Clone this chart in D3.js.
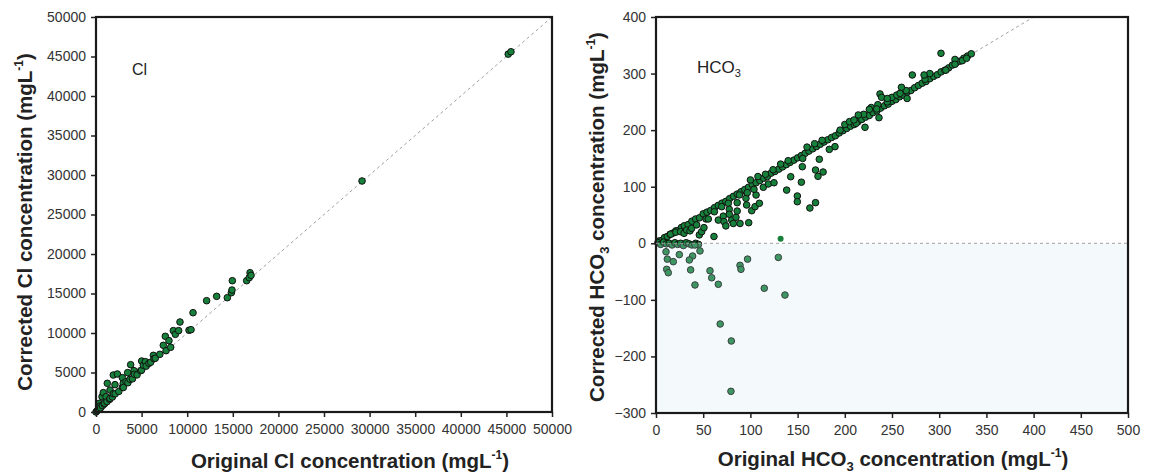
<!DOCTYPE html>
<html>
<head>
<meta charset="utf-8">
<script src="https://cdn.jsdelivr.net/npm/d3@7"></script>
<style>
  body { margin: 0; background: #fff; }
  text { font-family: "Liberation Sans", Arial, sans-serif; }
</style>
</head>
<body>
<div id="chart"></div>
<script>
// Cl panel: [original, corrected]
var clPoints = [
    [0, 0], [100, 120], [200, 250], [300, 350], [370, 1100], [440, 760], [500, 520], [660, 1940],
    [700, 800], [800, 2450], [900, 1000], [950, 1100], [1100, 1940], [1200, 1300], [1240, 3630],
    [1500, 1600], [1540, 2780], [1540, 1730], [1800, 1900], [1900, 2320], [1900, 4680], [2080, 3460],
    [2100, 2300], [2340, 4810], [2500, 2600], [2890, 4350], [2890, 3130], [2990, 3630], [3000, 3100],
    [3290, 3840], [3470, 4980], [3500, 3700], [3730, 4140], [3800, 5990], [4000, 4200], [4170, 5230],
    [4200, 4770], [4500, 4700], [4900, 5230], [5000, 5300], [5010, 6450], [5190, 5910], [5410, 6370],
    [5500, 5800], [5810, 6160], [6000, 6300], [6290, 7170], [6360, 6750], [6500, 6800], [7000, 7300],
    [7380, 8440], [7600, 9580], [7680, 7760], [8000, 9030], [8190, 8190], [8480, 10300], [8700, 9830],
    [9060, 10300], [9210, 11390], [10200, 10350], [10420, 10420], [10640, 12570], [12130, 14090],
    [13230, 14640], [14400, 14470], [14840, 15100], [14910, 15440], [14950, 16620], [16520, 16620],
    [16800, 17000], [16890, 17630], [17000, 17300],
    [29170, 29240], [45200, 45300], [45500, 45600]
];

// HCO3 panel: [original, corrected]
var hco3Points = [
    [3, 4], [6, 5], [9, 10], [12, 12], [15, 16], [18, 18], [21, 22], [24, 23], [27, 28], [30, 31],
    [34, 33], [38, 39], [42, 43], [46, 45], [50, 52], [54, 55], [58, 58], [62, 63], [66, 67], [70, 71],
    [74, 74], [78, 79], [82, 83], [86, 87], [90, 91], [94, 95], [98, 99], [102, 104], [106, 107],
    [110, 111], [114, 115], [118, 118], [122, 124], [126, 127], [130, 131], [134, 135], [138, 139],
    [142, 143], [146, 147], [150, 151], [154, 155], [158, 159], [162, 163], [166, 167], [170, 171],
    [174, 175], [178, 179], [182, 183], [186, 187], [190, 190], [194, 195], [198, 199], [202, 203],
    [206, 207], [210, 210], [214, 215], [218, 219], [222, 223], [226, 226], [230, 231], [234, 234],
    [238, 239], [242, 243], [246, 246], [250, 251], [254, 254], [258, 259], [262, 262], [266, 267],
    [270, 270], [274, 275], [278, 279], [282, 283], [286, 286], [290, 291], [294, 295], [298, 298],
    [302, 303], [306, 306], [310, 310], [314, 315], [318, 319], [322, 322], [326, 327], [330, 331],
    [334, 335],
    [100, 112], [108, 118], [116, 122], [124, 130], [132, 140], [140, 146], [160, 170], [168, 176],
    [176, 182], [195, 200], [200, 210], [205, 215], [212, 212], [220, 228], [228, 240], [235, 245],
    [245, 250], [250, 258], [255, 262], [265, 270], [285, 290], [290, 300],
    [15.5, 16], [21, 19.6], [26, 20.5], [29.7, 17.6], [32.5, 23.5], [36, 22], [37.8, 26.5], [43, 32.5],
    [45.9, 14.8], [48.4, 20.5], [50.8, 27.6], [53, 43], [55.4, 43], [61.8, 55.8], [61.4, 12], [66, 41],
    [69.6, 64.7], [71.3, 48], [72, 38.3], [74, 30.7], [76.6, 70.7], [77.6, 60], [77.6, 51.3],
    [80.2, 41], [81.9, 35], [84.7, 46], [86, 57], [86, 71.8], [88.3, 85.4], [89, 35], [95.3, 79.5],
    [96, 67.7], [96.7, 89.5], [98.2, 36.4], [101.4, 57.6], [104.9, 64.7], [106, 85.4], [103.8, 95.4],
    [109.5, 70.7], [113.7, 99], [119, 104.8], [125, 107], [138.4, 94], [149.7, 83.6], [149.7, 73.5],
    [163, 62.4], [169, 71.8], [142.7, 117.7], [154, 108], [169, 129.5], [177, 126], [171.6, 118.4],
    [173, 148.5], [155, 135.4], [155.4, 150], [189.6, 170.8], [183.6, 166], [221.4, 205],
    [214.3, 226.8], [209.7, 218], [226, 236.8], [233.8, 237.4], [236.2, 222], [237.3, 264], [239, 258],
    [245, 256], [260, 275.7], [266, 256], [258.5, 265], [271.5, 297.5], [284, 297.5], [301.9, 335.8],
    [307, 306], [316.7, 325], [316.7, 316.4], [324.5, 322.8], [329, 327],
    [2, 1], [5, -2], [8, 2], [11, -1], [14, 0], [17, -3], [20, 1], [23, -2], [26, 0], [29, -4],
    [32, 1], [35, -1], [38, -3], [42, 0], [45, -2], [41.3, -3],
    [10.6, -15], [12, -28], [18.3, -32.5], [11.3, -46], [13, -52], [24.7, -20], [46.6, -13.5],
    [38.8, -22.5], [35.3, -29.5], [36.7, -47], [41.3, -73.7], [57.2, -48.5], [59, -61], [66, -72.5],
    [89, -39], [90, -46], [97, -28], [114.7, -79.5], [129.6, -25], [136.6, -91.5],
    [68, -142.7], [79.8, -172.7], [79.4, -261.7]
];

// the lone point without an outline
var hco3Bare = [[132, 8]];

var clTicks = d3.range(0, 50001, 5000);
var hco3XTicks = d3.range(0, 501, 50);
var hco3YTicks = d3.range(-300, 401, 100);

var width = 1149;
var height = 475;

var svg = d3.select("#chart")
    .append("svg")
    .attr("width", width)
    .attr("height", height);

function panel(opts) {
    var x = d3.scaleLinear().domain(opts.xDomain).range([opts.left, opts.right]);
    var y = d3.scaleLinear().domain(opts.yDomain).range([opts.bottom, opts.top]);
    var g = svg.append("g");

    // 1:1 line
    g.append("line")
        .attr("x1", x(0)).attr("y1", y(0))
        .attr("x2", x(opts.diagTo)).attr("y2", y(opts.diagTo))
        .attr("stroke", "#a0a0a0")
        .attr("stroke-width", 1)
        .attr("stroke-dasharray", "3,3");

    g.selectAll("circle.pt")
        .data(opts.points)
        .enter()
        .append("circle")
        .attr("class", "pt")
        .attr("cx", function(d) { return x(d[0]); })
        .attr("cy", function(d) { return y(d[1]); })
        .attr("r", 3.3)
        .attr("fill", "#17803a")
        .attr("stroke", "#111")
        .attr("stroke-width", 1);

    var xAxis = g.append("g")
        .attr("transform", "translate(0," + opts.bottom + ")")
        .call(d3.axisBottom(x).tickValues(opts.xTicks).tickSize(5).tickPadding(7).tickFormat(d3.format("d")));
    var yAxis = g.append("g")
        .attr("transform", "translate(" + opts.left + ",0)")
        .call(d3.axisLeft(y).tickValues(opts.yTicks).tickSize(5).tickPadding(5).tickFormat(d3.format("d")));

    [xAxis, yAxis].forEach(function(a) {
        a.select(".domain").remove();
        a.selectAll("line").attr("stroke", "#222").attr("stroke-width", 1.5);
        a.selectAll("text")
            .attr("font-family", "Liberation Sans, Arial, sans-serif")
            .attr("font-size", "14px")
            .attr("fill", "#333");
    });

    // frame
    g.append("rect")
        .attr("x", opts.left).attr("y", opts.top)
        .attr("width", opts.right - opts.left)
        .attr("height", opts.bottom - opts.top)
        .attr("fill", "none")
        .attr("stroke", "#1a1a1a")
        .attr("stroke-width", 2.2);

    return { x: x, y: y, g: g };
}

function title(x, y, rotate, parts) {
    var t = svg.append("text")
        .attr("transform", "translate(" + x + "," + y + ")" + (rotate ? " rotate(-90)" : ""))
        .attr("text-anchor", "middle")
        .attr("font-size", "20.5px")
        .attr("font-weight", "bold")
        .attr("fill", "#222");
    parts.forEach(function(p) {
        var s = t.append("tspan").text(p.t);
        if (p.sup) s.attr("font-size", "12px").attr("dy", "-9");
        if (p.sub) s.attr("font-size", "13px").attr("dy", "5");
        if (p.back) s.attr("dy", p.back);
    });
}

// ---- left panel (Cl) ----
var left = panel({
    left: 96, right: 552, top: 17, bottom: 412,
    xDomain: [0, 50000], yDomain: [0, 50000], diagTo: 50000,
    xTicks: clTicks, yTicks: clTicks, points: clPoints
});

svg.append("text")
    .attr("x", 132).attr("y", 75)
    .attr("font-size", "16px")
    .attr("fill", "#222")
    .text("Cl");

title(350, 468, false, [{t: "Original Cl concentration (mgL"}, {t: "-1", sup: true}, {t: ")", back: "9"}]);
title(32, 222, true, [{t: "Corrected Cl concentration (mgL"}, {t: "-1", sup: true}, {t: ")", back: "9"}]);

// ---- right panel (HCO3) ----
var right = panel({
    left: 656, right: 1128, top: 17, bottom: 413,
    xDomain: [0, 500], yDomain: [-300, 400], diagTo: 400,
    xTicks: hco3XTicks, yTicks: hco3YTicks, points: hco3Points
});

right.g.selectAll("circle.bare")
    .data(hco3Bare)
    .enter()
    .append("circle")
    .attr("class", "bare")
    .attr("cx", function(d) { return right.x(d[0]); })
    .attr("cy", function(d) { return right.y(d[1]); })
    .attr("r", 3)
    .attr("fill", "#17803a");

// shaded negative region laid over the points
right.g.insert("rect", "g")
    .attr("x", right.x(0)).attr("y", right.y(0))
    .attr("width", right.x(500) - right.x(0))
    .attr("height", right.y(-300) - right.y(0))
    .attr("fill", "#cfe9f1")
    .attr("opacity", 0.22);

right.g.append("line")
    .attr("x1", right.x(0)).attr("y1", right.y(0))
    .attr("x2", right.x(500)).attr("y2", right.y(0))
    .attr("stroke", "#a0a0a0")
    .attr("stroke-width", 1)
    .attr("stroke-dasharray", "3,3");

var hl = svg.append("text")
    .attr("x", 697).attr("y", 73)
    .attr("font-size", "17px")
    .attr("fill", "#222");
hl.append("tspan").text("HCO");
hl.append("tspan").text("3").attr("font-size", "11px").attr("dy", "4");

title(893, 466, false, [{t: "Original HCO"}, {t: "3", sub: true}, {t: " concentration (mgL", back: "-5"}, {t: "-1", sup: true}, {t: ")", back: "9"}]);
title(604, 217, true, [{t: "Corrected HCO"}, {t: "3", sub: true}, {t: " concentration (mgL", back: "-5"}, {t: "-1", sup: true}, {t: ")", back: "9"}]);
</script>
</body>
</html>
